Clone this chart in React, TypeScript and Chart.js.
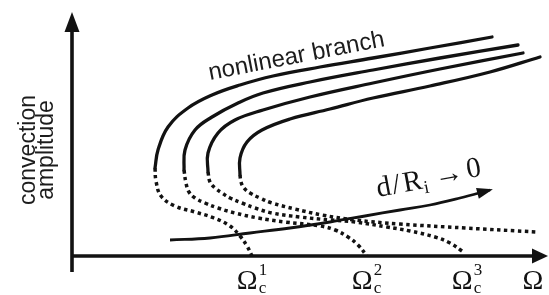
import { useEffect, useRef } from 'react';
import { Chart, registerables } from 'chart.js';

Chart.register(...registerables);

// Bifurcation diagram data (Ω in arbitrary units, amplitude in arbitrary units)
const stableBranch1 = [[8.3, 8.8], [8.6, 10.6], [9.6, 12.9], [11.6, 14.8], [14.0, 16.1], [16.8, 17.1], [20.1, 18.0], [24.8, 18.9], [30.1, 19.8], [35.8, 20.8], [42.0, 21.9]];
const unstableBranch1 = [[8.3, 8.8], [8.4, 7.5], [8.9, 6.0], [10.3, 5.0], [12.3, 4.4], [14.2, 3.8], [15.8, 3.0], [16.8, 2.0], [17.5, 1.0], [18.0, 0]];
const stableBranch2 = [[11.2, 8.6], [11.3, 10.6], [12.3, 12.6], [14.0, 13.9], [16.6, 15.3], [19.1, 16.3], [23.8, 17.4], [30.1, 18.6], [36.8, 19.8], [44.6, 21.1]];
const unstableBranch2 = [[11.2, 8.6], [11.4, 7.3], [11.7, 6.4], [12.3, 5.8], [13.3, 5.3], [14.6, 4.8], [16.3, 4.3], [18.6, 3.8], [21.3, 3.4], [24.8, 3.0], [26.3, 2.6], [27.6, 1.9], [28.6, 1.1], [29.5, 0]];
const stableBranch3 = [[13.6, 8.4], [13.6, 10.3], [14.6, 12.3], [16.3, 13.6], [19.1, 14.6], [23.8, 15.9], [30.1, 17.3], [36.8, 18.7], [45.1, 20.3]];
const unstableBranch3 = [[13.6, 8.4], [13.8, 7.4], [14.3, 6.8], [15.0, 6.3], [15.8, 5.8], [17.0, 5.3], [18.3, 4.8], [20.0, 4.3], [22.8, 3.9], [25.8, 3.6], [28.3, 3.4], [31.5, 2.9], [33.8, 2.5], [36.3, 1.9], [37.8, 1.3], [39.0, 0.5]];
const stableBranch4 = [[16.8, 8.1], [16.8, 9.8], [17.5, 11.4], [19.0, 12.6], [21.8, 13.7], [25.8, 14.7], [30.1, 15.8], [35.8, 17.0], [41.8, 18.4], [46.8, 19.9]];
const unstableBranch4 = [[16.8, 8.1], [16.9, 7.4], [17.2, 6.8], [17.8, 6.3], [18.8, 5.8], [20.0, 5.3], [22.3, 4.7], [25.0, 4.1], [28.3, 3.6], [32.8, 3.2], [39.3, 2.8], [46.5, 2.4]];
const limitArrow = [[9.8, 1.6], [13.8, 1.8], [17.8, 2.3], [21.8, 2.8], [25.8, 3.4], [29.3, 4.0], [32.8, 4.6], [35.8, 5.1], [38.8, 5.8], [41.8, 6.6]];

const criticalOmega = [18.0, 29.5, 39.5];
const criticalIndex = ['1', '2', '3'];

const X_MAX = 47.7;
const Y_MAX = 24.4;

const INK = '#121212';
const SERIF = '"Liberation Serif", "DejaVu Serif", serif';
const SANS = '"Liberation Sans", Arial, sans-serif';

const toXY = (pts: number[][]) => pts.map(([x, y]) => ({ x, y }));

export default function App() {
  const ref = useRef<HTMLCanvasElement>(null);

  useEffect(() => {
    const canvas = ref.current;
    if (!canvas) return;

    const solid = (pts: number[][]) => ({
      data: toXY(pts),
      showLine: true,
      borderColor: INK,
      borderWidth: 3.3,
      pointRadius: 0,
      tension: 0.4,
      fill: false,
      borderCapStyle: 'round' as const,
    });
    const dotted = (pts: number[][]) => ({
      ...solid(pts),
      borderWidth: 3.5,
      borderDash: [3.5, 3.5],
      borderCapStyle: 'butt' as const,
    });

    const decor = {
      id: 'decor',
      afterDatasetsDraw(chart: any) {
        const { ctx, chartArea, scales } = chart;
        const L = chartArea.left;
        const B = chartArea.bottom;
        const T = chartArea.top;
        const R = chart.width - 1;
        ctx.save();
        ctx.fillStyle = INK;
        ctx.strokeStyle = INK;

        // axes
        ctx.lineWidth = 3.6;
        ctx.lineCap = 'butt';
        ctx.beginPath();
        ctx.moveTo(L, B + 16);
        ctx.lineTo(L, T + 16);
        ctx.moveTo(L - 1.8, B);
        ctx.lineTo(R - 12, B);
        ctx.stroke();
        // y arrowhead
        ctx.beginPath();
        ctx.moveTo(L, T);
        ctx.lineTo(L - 7.5, T + 20);
        ctx.lineTo(L + 7.5, T + 20);
        ctx.closePath();
        ctx.fill();
        // x arrowhead
        ctx.beginPath();
        ctx.moveTo(R, B);
        ctx.lineTo(R - 16, B - 7.5);
        ctx.lineTo(R - 16, B + 7.5);
        ctx.closePath();
        ctx.fill();

        // arrowhead of limit arrow
        const meta = chart.getDatasetMeta(chart.data.datasets.length - 1);
        const pts = meta.data;
        const p1 = pts[pts.length - 1];
        const p0 = pts[pts.length - 2];
        const ang = Math.atan2(p1.y - p0.y, p1.x - p0.x);
        ctx.save();
        ctx.translate(p1.x, p1.y);
        ctx.rotate(ang);
        ctx.beginPath();
        ctx.moveTo(3, 0);
        ctx.lineTo(-13, -5.5);
        ctx.lineTo(-13, 5.5);
        ctx.closePath();
        ctx.fill();
        ctx.restore();

        // critical Ω labels
        const xs = scales.x;
        ctx.textBaseline = 'alphabetic';
        ctx.textAlign = 'left';
        criticalOmega.forEach((v, i) => {
          const px = xs.getPixelForValue(v);
          ctx.font = `28px ${SERIF}`;
          const wO = ctx.measureText('Ω').width;
          ctx.font = `17px ${SERIF}`;
          const wS = Math.max(ctx.measureText('c').width, ctx.measureText(criticalIndex[i]).width);
          const start = px - (wO + wS + 1) / 2;
          ctx.font = `28px ${SERIF}`;
          ctx.fillText('Ω', start, 289);
          ctx.font = `17px ${SERIF}`;
          ctx.fillText(criticalIndex[i], start + wO + 1, 275);
          ctx.fillText('c', start + wO + 1, 293);
        });
        ctx.font = `28px ${SERIF}`;
        ctx.textAlign = 'center';
        ctx.fillText('Ω', R - 15, 289);

        // nonlinear branch
        ctx.fillStyle = '#1c1c1c';
        ctx.save();
        ctx.translate(210, 80);
        ctx.rotate((-11 * Math.PI) / 180);
        ctx.font = `24px ${SANS}`;
        ctx.textAlign = 'left';
        ctx.fillText('nonlinear branch', 0, 0);
        ctx.restore();

        // y-axis title
        ctx.save();
        ctx.translate(35, 150);
        ctx.rotate(-Math.PI / 2);
        ctx.font = `23px ${SANS}`;
        ctx.textAlign = 'center';
        ctx.fillText('convection', 0, 0);
        ctx.fillText('amplitude', 0, 18);
        ctx.restore();

        // d/R_i -> 0
        ctx.fillStyle = INK;
        ctx.save();
        ctx.translate(378, 197);
        ctx.rotate((-10.5 * Math.PI) / 180);
        ctx.textAlign = 'left';
        ctx.font = `29px ${SERIF}`;
        ctx.fillText('d', 0, 0);
        ctx.fillText('/', 16, 0);
        ctx.fillText('R', 27, 0);
        ctx.font = `18px ${SERIF}`;
        ctx.fillText('i', 47, 5);
        ctx.font = `29px ${SERIF}`;
        ctx.fillText('→', 59, -1);
        ctx.fillText('0', 92, -2);
        ctx.restore();

        ctx.restore();
      },
    };

    const chart = new Chart(canvas, {
      type: 'scatter',
      data: {
        datasets: [
          solid(stableBranch1),
          dotted(unstableBranch1),
          solid(stableBranch2),
          dotted(unstableBranch2),
          solid(stableBranch3),
          dotted(unstableBranch3),
          solid(stableBranch4),
          dotted(unstableBranch4),
          { ...solid(limitArrow), borderWidth: 2.8, borderCapStyle: 'butt' as const },
        ],
      },
      options: {
        responsive: false,
        animation: false,
        devicePixelRatio: 1,
        events: [],
        layout: { padding: { left: 72, right: 0, top: 12, bottom: 39 } },
        scales: {
          x: { type: 'linear', min: 0, max: X_MAX, display: false },
          y: { type: 'linear', min: 0, max: Y_MAX, display: false },
        },
        plugins: {
          legend: { display: false },
          tooltip: { enabled: false },
        },
      },
      plugins: [decor],
    });

    return () => chart.destroy();
  }, []);

  return (
    <div style={{ position: 'fixed', left: 0, top: 0, width: 549, height: 295, background: '#fff' }}>
      <canvas ref={ref} width={549} height={295} style={{ display: 'block', width: 549, height: 295 }} />
    </div>
  );
}
